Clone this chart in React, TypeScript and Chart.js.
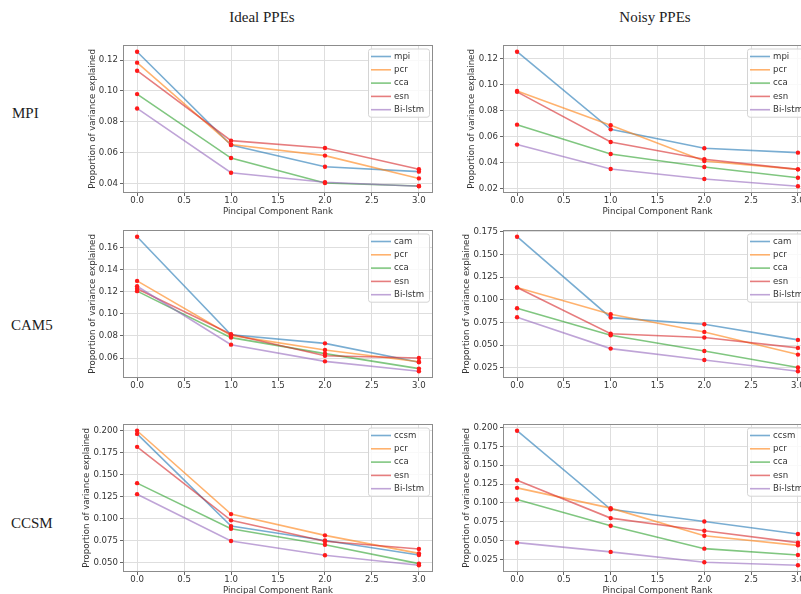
import React, { useEffect, useRef } from "react";
import { Chart, registerables } from "chart.js";

Chart.register(...registerables);

const SANS = "'DejaVu Sans', sans-serif";
const SERIF = "'Liberation Serif', 'Times New Roman', serif";
const SMALL = 8.6;
const TEXT_COLOR = "#333";

// Principal component rank on the x axis
const ranks = [0, 1, 2, 3];
const xTickValues = [0, 0.5, 1, 1.5, 2, 2.5, 3];
const xTickLabels = ["0.0", "0.5", "1.0", "1.5", "2.0", "2.5", "3.0"];

const seriesColors = ["#1f77b4", "#ff7f0e", "#2ca02c", "#d62728", "#9467bd"];

const mpiNames = ["mpi", "pcr", "cca", "esn", "Bi-lstm"];
const camNames = ["cam", "pcr", "cca", "esn", "Bi-lstm"];
const ccsmNames = ["ccsm", "pcr", "cca", "esn", "Bi-lstm"];

// MPI, ideal PPEs
const mpiIdealMpi = [0.1254, 0.0649, 0.0508, 0.0476];
const mpiIdealPcr = [0.1183, 0.0652, 0.058, 0.0432];
const mpiIdealCca = [0.0979, 0.0564, 0.0402, 0.0383];
const mpiIdealEsn = [0.1131, 0.0677, 0.0629, 0.0491];
const mpiIdealBiLstm = [0.0886, 0.0469, 0.0407, 0.0381];

// MPI, noisy PPEs
const mpiNoisyMpi = [0.1251, 0.0655, 0.051, 0.0476];
const mpiNoisyPcr = [0.0949, 0.0686, 0.0412, 0.0348];
const mpiNoisyCca = [0.0691, 0.0466, 0.0366, 0.0284];
const mpiNoisyEsn = [0.0943, 0.0558, 0.0426, 0.0348];
const mpiNoisyBiLstm = [0.0538, 0.0351, 0.0274, 0.0218];

// CAM5, ideal PPEs
const camIdealCam = [0.1699, 0.0811, 0.0733, 0.0561];
const camIdealPcr = [0.1299, 0.0805, 0.0673, 0.0566];
const camIdealCca = [0.1206, 0.0785, 0.064, 0.0504];
const camIdealEsn = [0.1227, 0.0815, 0.062, 0.06];
const camIdealBiLstm = [0.125, 0.0721, 0.057, 0.048];

// CAM5, noisy PPEs
const camNoisyCam = [0.1697, 0.0805, 0.0732, 0.0559];
const camNoisyPcr = [0.1138, 0.0842, 0.0647, 0.0397];
const camNoisyCca = [0.0908, 0.061, 0.0437, 0.0254];
const camNoisyEsn = [0.1136, 0.0627, 0.0585, 0.0471];
const camNoisyBiLstm = [0.0809, 0.0463, 0.0338, 0.0213];

// CCSM, ideal PPEs
const ccsmIdealCcsm = [0.1959, 0.0914, 0.075, 0.0587];
const ccsmIdealPcr = [0.1995, 0.105, 0.0809, 0.0605];
const ccsmIdealCca = [0.1401, 0.0884, 0.0703, 0.0489];
const ccsmIdealEsn = [0.1812, 0.0979, 0.0743, 0.0654];
const ccsmIdealBiLstm = [0.1276, 0.0745, 0.0583, 0.047];

// CCSM, noisy PPEs
const ccsmNoisyCcsm = [0.1956, 0.0915, 0.0754, 0.0587];
const ccsmNoisyPcr = [0.1199, 0.093, 0.0565, 0.0437];
const ccsmNoisyCca = [0.1045, 0.0697, 0.0393, 0.031];
const ccsmNoisyEsn = [0.13, 0.0798, 0.063, 0.0473];
const ccsmNoisyBiLstm = [0.0473, 0.035, 0.0213, 0.0173];

// y tick values and their labels
const yTicksMpiIdeal = [0.04, 0.06, 0.08, 0.1, 0.12];
const yLabelsMpiIdeal = ["0.04", "0.06", "0.08", "0.10", "0.12"];
const yTicksMpiNoisy = [0.02, 0.04, 0.06, 0.08, 0.1, 0.12];
const yLabelsMpiNoisy = ["0.02", "0.04", "0.06", "0.08", "0.10", "0.12"];
const yTicksCamIdeal = [0.06, 0.08, 0.1, 0.12, 0.14, 0.16];
const yLabelsCamIdeal = ["0.06", "0.08", "0.10", "0.12", "0.14", "0.16"];
const yTicksCamNoisy = [0.025, 0.05, 0.075, 0.1, 0.125, 0.15, 0.175];
const yLabelsCamNoisy = ["0.025", "0.050", "0.075", "0.100", "0.125", "0.150", "0.175"];
const yTicksCcsmIdeal = [0.05, 0.075, 0.1, 0.125, 0.15, 0.175, 0.2];
const yLabelsCcsmIdeal = ["0.050", "0.075", "0.100", "0.125", "0.150", "0.175", "0.200"];
const yTicksCcsmNoisy = [0.025, 0.05, 0.075, 0.1, 0.125, 0.15, 0.175, 0.2];
const yLabelsCcsmNoisy = ["0.025", "0.050", "0.075", "0.100", "0.125", "0.150", "0.175", "0.200"];

const panels = [
  {
    key: "mpi-ideal",
    names: mpiNames,
    series: [mpiIdealMpi, mpiIdealPcr, mpiIdealCca, mpiIdealEsn, mpiIdealBiLstm],
    yTicks: yTicksMpiIdeal,
    yLabels: yLabelsMpiIdeal,
  },
  {
    key: "mpi-noisy",
    names: mpiNames,
    series: [mpiNoisyMpi, mpiNoisyPcr, mpiNoisyCca, mpiNoisyEsn, mpiNoisyBiLstm],
    yTicks: yTicksMpiNoisy,
    yLabels: yLabelsMpiNoisy,
  },
  {
    key: "cam-ideal",
    names: camNames,
    series: [camIdealCam, camIdealPcr, camIdealCca, camIdealEsn, camIdealBiLstm],
    yTicks: yTicksCamIdeal,
    yLabels: yLabelsCamIdeal,
  },
  {
    key: "cam-noisy",
    names: camNames,
    series: [camNoisyCam, camNoisyPcr, camNoisyCca, camNoisyEsn, camNoisyBiLstm],
    yTicks: yTicksCamNoisy,
    yLabels: yLabelsCamNoisy,
  },
  {
    key: "ccsm-ideal",
    names: ccsmNames,
    series: [ccsmIdealCcsm, ccsmIdealPcr, ccsmIdealCca, ccsmIdealEsn, ccsmIdealBiLstm],
    yTicks: yTicksCcsmIdeal,
    yLabels: yLabelsCcsmIdeal,
  },
  {
    key: "ccsm-noisy",
    names: ccsmNames,
    series: [ccsmNoisyCcsm, ccsmNoisyPcr, ccsmNoisyCca, ccsmNoisyEsn, ccsmNoisyBiLstm],
    yTicks: yTicksCcsmNoisy,
    yLabels: yLabelsCcsmNoisy,
  },
];

// Placement of each panel's canvas on the page
const PAD_TOP = 10;
const PAD_RIGHT = 10;
const PAD_BOTTOM = 2;
const Y_AXIS_W = 43;
const X_AXIS_H = 24;
const PLOT_H = 148;
const frames = [
  { left: 80, top: 35, plotW: 310, yTitlePad: 8, xTitle: true },
  { left: 460, top: 35, plotW: 309, yTitlePad: 7, xTitle: true },
  { left: 80, top: 220, plotW: 310, yTitlePad: 8, xTitle: false },
  { left: 460, top: 220, plotW: 309, yTitlePad: 2, xTitle: false },
  { left: 80, top: 414, plotW: 310, yTitlePad: 2, xTitle: true },
  { left: 460, top: 414, plotW: 309, yTitlePad: 2, xTitle: true },
];

function withAlpha(hex: string, a: number) {
  const n = parseInt(hex.slice(1), 16);
  return `rgba(${(n >> 16) & 255}, ${(n >> 8) & 255}, ${n & 255}, ${a})`;
}

const LINE_ALPHA = 0.6;

// Axes frame on all four sides
const framePlugin = {
  id: "panelFrame",
  afterDatasetsDraw(chart: any) {
    const { ctx, chartArea: a } = chart;
    ctx.save();
    ctx.strokeStyle = "#8c8c8c";
    ctx.lineWidth = 1;
    ctx.strokeRect(a.left + 0.5, a.top + 0.5, a.right - a.left - 1, a.bottom - a.top - 1);
    ctx.restore();
  },
};

// Legend box in the upper right corner of the plot area
const legendPlugin = {
  id: "panelLegend",
  afterDraw(chart: any, _args: any, opts: any) {
    const { ctx, chartArea: a } = chart;
    const names: string[] = opts.names || [];
    const colors: string[] = opts.colors || [];
    ctx.save();
    ctx.font = `${SMALL}px ${SANS}`;
    const maxW = Math.max(...names.map((n) => ctx.measureText(n).width));
    const rowH = 13.3;
    const w = 26 + maxW + 5;
    const h = 8 + rowH * (names.length - 1) + 7;
    const x = a.right - 4 - w;
    const y = a.top + 3.5;
    ctx.beginPath();
    ctx.roundRect(x + 0.5, y + 0.5, w, h, 2.5);
    ctx.fillStyle = "rgba(255,255,255,0.8)";
    ctx.fill();
    ctx.strokeStyle = "#d4d4d4";
    ctx.lineWidth = 1;
    ctx.stroke();
    names.forEach((name, i) => {
      const cy = y + 8 + i * rowH;
      ctx.beginPath();
      ctx.moveTo(x + 3, cy);
      ctx.lineTo(x + 23, cy);
      ctx.strokeStyle = colors[i];
      ctx.lineWidth = 1.6;
      ctx.stroke();
      ctx.fillStyle = TEXT_COLOR;
      ctx.textAlign = "left";
      ctx.textBaseline = "middle";
      ctx.fillText(name, x + 26, cy);
    });
    ctx.restore();
  },
};

function Panel({ panel, frame }: { panel: any; frame: any }) {
  const ref = useRef<HTMLCanvasElement | null>(null);
  const width = Y_AXIS_W + frame.plotW + PAD_RIGHT;
  const height = PAD_TOP + PLOT_H + X_AXIS_H + PAD_BOTTOM;

  useEffect(() => {
    if (!ref.current) return;
    const all: number[] = panel.series.flat();
    const lo = Math.min(...all);
    const hi = Math.max(...all);
    const margin = (hi - lo) * 0.05;
    const colors = seriesColors.map((c) => withAlpha(c, LINE_ALPHA));

    const lineSets = panel.series.map((vals: number[], i: number) => ({
      type: "line",
      label: panel.names[i],
      data: ranks.map((r, k) => ({ x: r, y: vals[k] })),
      borderColor: colors[i],
      borderWidth: 1.6,
      pointRadius: 0,
      tension: 0,
      fill: false,
      order: 20 - i,
    }));
    const dotSets = panel.series.map((vals: number[], i: number) => ({
      type: "line",
      label: panel.names[i] + " points",
      data: ranks.map((r, k) => ({ x: r, y: vals[k] })),
      showLine: false,
      pointRadius: 2.2,
      pointBackgroundColor: "#ff1a1a",
      pointBorderWidth: 0,
      order: 5 - i,
    }));

    const tickFont = { family: SANS, size: SMALL, lineHeight: 1 };
    const chart = new Chart(ref.current, {
      type: "line",
      data: { datasets: [...lineSets, ...dotSets] },
      options: {
        responsive: false,
        animation: false,
        events: [],
        layout: { padding: { top: PAD_TOP, right: PAD_RIGHT, bottom: PAD_BOTTOM, left: 0 } },
        plugins: {
          legend: { display: false },
          tooltip: { enabled: false },
          panelLegend: { names: panel.names, colors },
        } as any,
        scales: {
          x: {
            type: "linear",
            min: -0.15,
            max: 3.15,
            afterBuildTicks: (s: any) => {
              s.ticks = xTickValues.map((v) => ({ value: v }));
            },
            afterFit: (s: any) => {
              s.height = X_AXIS_H;
            },
            ticks: {
              callback: (_v: any, i: number) => xTickLabels[i],
              font: tickFont,
              color: TEXT_COLOR,
              padding: 0,
              maxRotation: 0,
              autoSkip: false,
            },
            grid: { color: "#dedede", lineWidth: 1, tickLength: 3, tickColor: "#666", drawTicks: true },
            border: { display: false },
            title: {
              display: frame.xTitle,
              text: "Pincipal Component Rank",
              font: { family: SANS, size: SMALL, lineHeight: 1.2 },
              color: TEXT_COLOR,
              padding: { top: 0, bottom: 0.5 },
            },
          },
          y: {
            type: "linear",
            min: lo - margin,
            max: hi + margin,
            afterBuildTicks: (s: any) => {
              s.ticks = panel.yTicks.map((v: number) => ({ value: v }));
            },
            afterFit: (s: any) => {
              s.width = Y_AXIS_W;
            },
            ticks: {
              callback: (_v: any, i: number) => panel.yLabels[i],
              font: tickFont,
              color: TEXT_COLOR,
              padding: 2,
              autoSkip: false,
            },
            grid: { color: "#dedede", lineWidth: 1, tickLength: 3, tickColor: "#666", drawTicks: true },
            border: { display: false },
            title: {
              display: true,
              text: "Proportion of variance explained",
              font: { family: SANS, size: SMALL, lineHeight: 1.2 },
              color: TEXT_COLOR,
              padding: { top: frame.yTitlePad, bottom: 0 },
            },
          },
        },
      } as any,
      plugins: [framePlugin, legendPlugin],
    });
    return () => chart.destroy();
  }, [panel, frame]);

  return (
    <canvas
      ref={ref}
      width={width}
      height={height}
      style={{ position: "absolute", left: frame.left, top: frame.top, width, height }}
    />
  );
}

const headingStyle = (x: number, y: number): React.CSSProperties => ({
  position: "absolute",
  left: x,
  top: y,
  transform: "translate(-50%, -50%)",
  fontFamily: SERIF,
  fontSize: 15,
  color: "#222",
  whiteSpace: "nowrap",
  lineHeight: 1,
});

const rowLabelStyle = (x: number, y: number): React.CSSProperties => ({
  position: "absolute",
  left: x,
  top: y,
  transform: "translateY(-50%)",
  fontFamily: SERIF,
  fontSize: 15,
  color: "#222",
  whiteSpace: "nowrap",
  lineHeight: 1,
});

export default function App() {
  return (
    <div
      style={{
        position: "fixed",
        left: 0,
        top: 0,
        width: 801,
        height: 594,
        overflow: "hidden",
        background: "#fff",
      }}
    >
      <div style={headingStyle(262, 17)}>Ideal PPEs</div>
      <div style={headingStyle(655, 17)}>Noisy PPEs</div>
      <div style={rowLabelStyle(12, 113)}>MPI</div>
      <div style={rowLabelStyle(11, 325)}>CAM5</div>
      <div style={rowLabelStyle(11, 523)}>CCSM</div>
      {panels.map((p, i) => (
        <Panel key={p.key} panel={p} frame={frames[i]} />
      ))}
    </div>
  );
}
